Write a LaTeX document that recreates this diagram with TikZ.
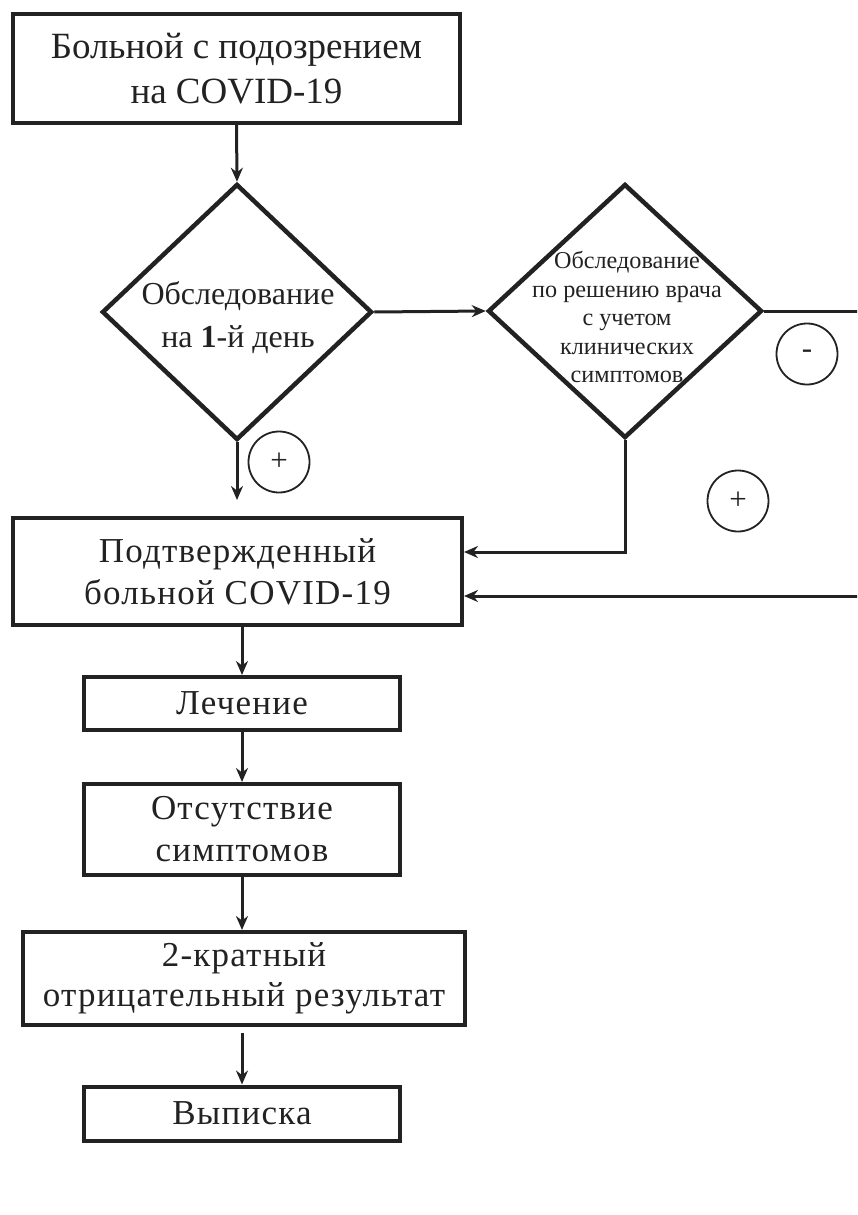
\documentclass[tikz,border=0pt]{standalone}
\usepackage{fontspec}
\setmainfont{Liberation Serif}
\newfontfamily\spacedserif[LetterSpace=3.5]{Liberation Serif}
\usetikzlibrary{shapes.geometric,arrows.meta}
\definecolor{ink}{HTML}{222222}
\begin{document}
\begin{tikzpicture}[x=1pt,y=-1pt,
  box/.style={draw=ink,line width=4pt,rectangle,inner sep=0pt,align=center,text=ink},
  dia/.style={draw=ink,line width=4.5pt,diamond,inner sep=0pt},
  dtext/.style={inner sep=0pt,align=center,text=ink},
  sign/.style={draw=ink,line width=1.8pt,circle,inner sep=0pt,minimum size=61pt,text=ink,font=\fontsize{31}{31}\selectfont},
  conn/.style={draw=ink,line width=3pt},
  arr/.style={conn,-{Stealth[length=14pt,width=12pt]}},
  fbig/.style={font=\fontsize{37}{45}\selectfont},
  fmid/.style={font=\spacedserif\fontsize{35}{42}\selectfont},
]
\useasboundingbox (0,0) rectangle (857,1215);
\clip (0,0) rectangle (857,1215);

\node[box,fbig,minimum width=447pt,minimum height=109pt] (b1) at (236.5,68.5) {Больной с подозрением\\на COVID-19};

\node[dia,minimum width=270pt,minimum height=256pt] (d1) at (237,312) {};
\node[dtext,font=\fontsize{32}{43}\selectfont] (t1) at (238,318) {Обследование\\на \textbf{1}-й день};

\node[dia,minimum width=274pt,minimum height=254pt] (d2) at (625,311) {};
\node[dtext,font=\fontsize{24.2}{28.5}\selectfont] (t2) at (627,317) {Обследование\\по решению врача\\с учетом\\клинических\\симптомов};

\node[box,fmid,minimum width=449pt,minimum height=107pt] (b2) at (237.5,571.5) {Подтвержденный\\больной COVID-19};

\node[box,fmid,minimum width=316pt,minimum height=53pt] (b3) at (242,703.5) {Лечение};
\node[box,fmid,minimum width=316pt,minimum height=91pt] (b4) at (242,829.5) {Отсутствие\\симптомов};
\node[box,font=\spacedserif\fontsize{35}{40}\selectfont,minimum width=442pt,minimum height=93pt] (b5) at (244,978.5) {2-кратный\\отрицательный результат};
\node[box,fmid,minimum width=316pt,minimum height=54pt] (b6) at (242,1113.5) {Выписка};

\node[sign] (c1) at (279,462) {+};
\node[sign] (c2) at (738,501) {+};
\node[sign] (c3) at (807,354) {-};

\coordinate (r1) at (880,311);
\coordinate (r2) at (880,596);

\draw[arr] (b1.south) -- (d1.north);
\draw[arr] (d1.east) -- (d2.west);
\draw[arr,shorten >=16pt] (d1.south) -- (b2.north -| d1.south);
\draw[arr] (d2.south) |- ([yshift=19.5pt]b2.east);
\draw[arr] (d2.east) -- (r1) -- (r2) -- ([yshift=-24.5pt]b2.east);
\draw[arr] (b2.south -| b3.north) -- (b3.north);
\draw[arr] (b3.south) -- (b4.north);
\draw[arr] (b4.south) -- (b5.north -| b4.south);
\draw[arr,shorten <=6pt] (b5.south -| b6.north) -- (b6.north);
\end{tikzpicture}
\end{document}
